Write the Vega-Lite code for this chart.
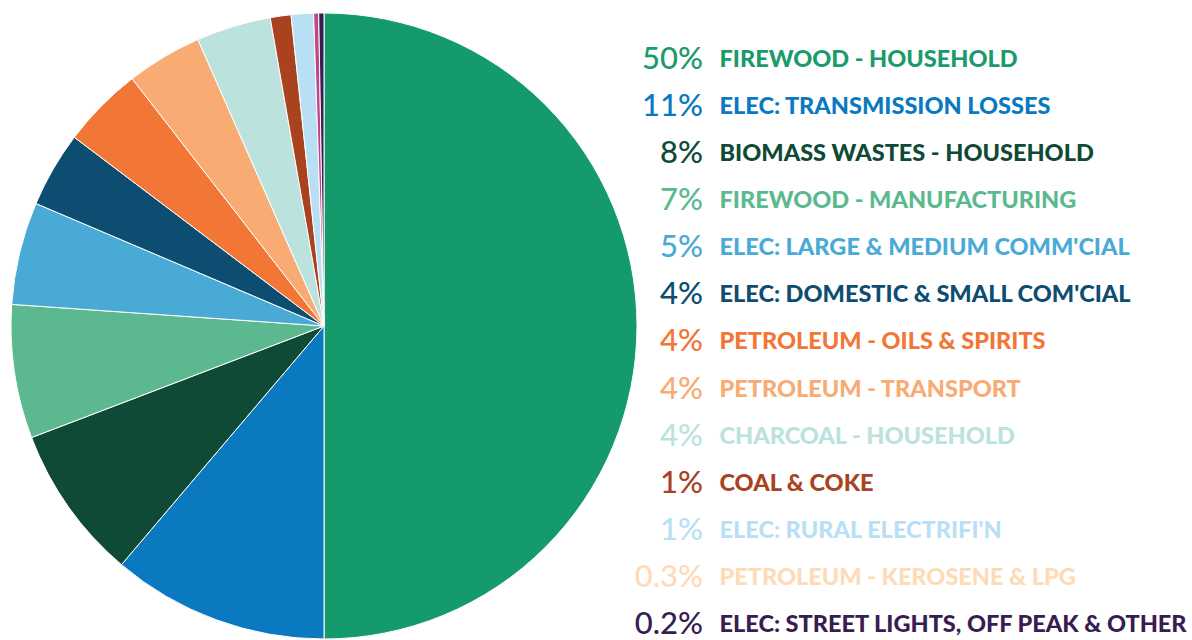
{
  "$schema": "https://vega.github.io/schema/vega-lite/v6.json",
  "padding": {"left": 9, "top": 11, "right": 0, "bottom": 3},
  "background": "white",
  "bounds": "flush",
  "config": {"view": {"stroke": null}},
  "data": {"values": [
    {"rank": 1, "name": "FIREWOOD - HOUSEHOLD", "pct": "50%", "value": 50.0},
    {"rank": 2, "name": "ELEC: TRANSMISSION LOSSES", "pct": "11%", "value": 11.2},
    {"rank": 3, "name": "BIOMASS WASTES - HOUSEHOLD", "pct": "8%", "value": 8.0},
    {"rank": 4, "name": "FIREWOOD - MANUFACTURING", "pct": "7%", "value": 6.9},
    {"rank": 5, "name": "ELEC: LARGE & MEDIUM COMM'CIAL", "pct": "5%", "value": 5.3},
    {"rank": 6, "name": "ELEC: DOMESTIC & SMALL COM'CIAL", "pct": "4%", "value": 3.9},
    {"rank": 7, "name": "PETROLEUM - OILS & SPIRITS", "pct": "4%", "value": 4.2},
    {"rank": 8, "name": "PETROLEUM - TRANSPORT", "pct": "4%", "value": 3.9},
    {"rank": 9, "name": "CHARCOAL - HOUSEHOLD", "pct": "4%", "value": 3.85},
    {"rank": 10, "name": "COAL & COKE", "pct": "1%", "value": 1.07},
    {"rank": 11, "name": "ELEC: RURAL ELECTRIFI'N", "pct": "1%", "value": 1.15},
    {"rank": 12, "name": "PETROLEUM - KEROSENE & LPG", "pct": "0.3%", "value": 0.26},
    {"rank": 13, "name": "ELEC: STREET LIGHTS, OFF PEAK & OTHER", "pct": "0.2%", "value": 0.27}
  ]},
  "resolve": {"scale": {"color": "independent"}},
  "spacing": 77,
  "hconcat": [
    {
      "width": 626,
      "height": 626,
      "mark": {"type": "arc", "stroke": "white", "strokeWidth": 1},
      "encoding": {
        "theta": {"field": "value", "type": "quantitative", "stack": true},
        "order": {"field": "rank", "type": "quantitative"},
        "color": {
          "field": "name", "type": "nominal", "legend": null,
          "scale": {
            "domain": ["FIREWOOD - HOUSEHOLD", "ELEC: TRANSMISSION LOSSES", "BIOMASS WASTES - HOUSEHOLD", "FIREWOOD - MANUFACTURING", "ELEC: LARGE & MEDIUM COMM'CIAL", "ELEC: DOMESTIC & SMALL COM'CIAL", "PETROLEUM - OILS & SPIRITS", "PETROLEUM - TRANSPORT", "CHARCOAL - HOUSEHOLD", "COAL & COKE", "ELEC: RURAL ELECTRIFI'N", "PETROLEUM - KEROSENE & LPG", "ELEC: STREET LIGHTS, OFF PEAK & OTHER"],
            "range": ["#159a6b", "#0a79bf", "#0f4a36", "#5cb98f", "#4aaad6", "#0e4d72", "#f27636", "#f8ab72", "#bbe2dd", "#a9431f", "#b9dff5", "#c0468a", "#371d52"]
          }
        }
      }
    },
    {
      "width": 470,
      "height": 626,
      "encoding": {
        "y": {
          "field": "name", "type": "nominal", "sort": null, "axis": null,
          "scale": {"type": "point", "padding": 0.648, "align": 0.77}
        },
        "x": {"datum": 0, "type": "quantitative", "axis": null, "scale": {"domain": [0, 1]}},
        "color": {
          "field": "name", "type": "nominal", "legend": null,
          "scale": {
            "domain": ["FIREWOOD - HOUSEHOLD", "ELEC: TRANSMISSION LOSSES", "BIOMASS WASTES - HOUSEHOLD", "FIREWOOD - MANUFACTURING", "ELEC: LARGE & MEDIUM COMM'CIAL", "ELEC: DOMESTIC & SMALL COM'CIAL", "PETROLEUM - OILS & SPIRITS", "PETROLEUM - TRANSPORT", "CHARCOAL - HOUSEHOLD", "COAL & COKE", "ELEC: RURAL ELECTRIFI'N", "PETROLEUM - KEROSENE & LPG", "ELEC: STREET LIGHTS, OFF PEAK & OTHER"],
            "range": ["#1b9a6b", "#0a79bf", "#0f4a36", "#5cb98f", "#4aaad6", "#0e4d72", "#f27636", "#f8ab72", "#bbe2dd", "#a9431f", "#b9dff5", "#fddbb7", "#371d52"]
          }
        }
      },
      "layer": [
        {
          "mark": {"type": "text", "align": "right", "baseline": "middle", "dx": -11, "font": "Lato", "fontSize": 31, "fontWeight": 500},
          "encoding": {"text": {"field": "pct"}}
        },
        {
          "mark": {"type": "text", "align": "left", "baseline": "middle", "dx": 5.5, "font": "Lato", "fontSize": 23.5, "fontWeight": 900},
          "encoding": {"text": {"field": "name"}}
        }
      ]
    }
  ]
}
